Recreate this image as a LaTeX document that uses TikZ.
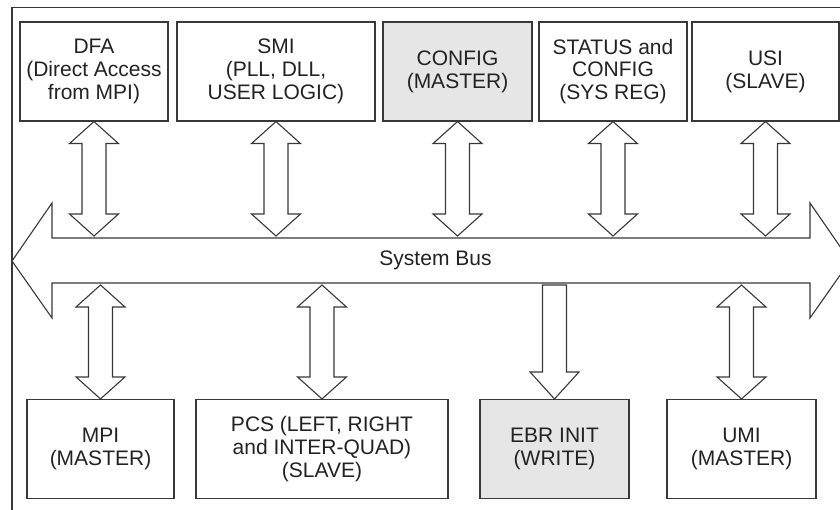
\documentclass[tikz,border=0pt]{standalone}
\usepackage{fontspec}
\setmainfont{Liberation Sans}
\usetikzlibrary{calc}

\definecolor{linegray}{HTML}{383838}
\definecolor{boxgray}{HTML}{E6E6E6}
\definecolor{textgray}{HTML}{222222}

\tikzset{
	blk/.style={draw=linegray, line width=1.1pt, align=center, inner sep=0pt,
		minimum height=99pt, text=textgray, font=\fontsize{21}{22.8}\selectfont},
	blkgray/.style={blk, fill=boxgray},
	busarrow/.style={draw=linegray, line width=1.1pt, fill=white, line join=miter},
}

% double block arrow from #1 (upper end) down to #2 (lower end)
\newcommand{\dblarrow}[2]{%
	\draw[busarrow] let \p1=(#1), \p2=(#2) in
		(\x1,\y1) -- (\x1+24.5pt,\y1-22pt) -- (\x1+12pt,\y1-22pt) -- (\x1+12pt,\y2+22pt)
		-- (\x1+24.5pt,\y2+22pt) -- (\x1,\y2) -- (\x1-24.5pt,\y2+22pt) -- (\x1-12pt,\y2+22pt)
		-- (\x1-12pt,\y1-22pt) -- (\x1-24.5pt,\y1-22pt) -- cycle;}

\begin{document}
\begin{tikzpicture}[x=1pt,y=-1pt]
	\useasboundingbox (0,0) rectangle (840,510);
	\clip (0,0) rectangle (840,510);

	% frame
	\draw[linegray, line width=1.1pt] (12,515) -- (12,7.5) -- (850,7.5);

	% top row
	\node[blk, minimum width=148pt] (dfa) at (94,71.5) {DFA\\(Direct Access\\from MPI)};
	\node[blk, minimum width=198pt] (smi) at (276,71.5) {SMI\\(PLL, DLL,\\USER LOGIC)};
	\node[blkgray, minimum width=149pt] (config) at (457.5,71.5) {CONFIG\\(MASTER)};
	\node[blk, minimum width=148pt] (status) at (613,71.5) {STATUS and\\CONFIG\\(SYS REG)};
	\node[blk, minimum width=147pt] (usi) at (765.5,71.5) {USI\\(SLAVE)};

	% bottom row
	\node[blk, minimum width=147pt] (mpi) at (100.5,449) {MPI\\(MASTER)};
	\node[blk, minimum width=252pt] (pcs) at (322,449) {PCS (LEFT, RIGHT\\and INTER-QUAD)\\(SLAVE)};
	\node[blkgray, minimum width=149pt] (ebr) at (554.5,449) {EBR INIT\\(WRITE)};
	\node[blk, minimum width=149pt] (umi) at (741.5,449) {UMI\\(MASTER)};

	% system bus
	\draw[busarrow] (12,261) -- (52,203) -- (52,238) -- (810,238) -- (810,203) -- (850,261)
		-- (810,318) -- (810,283) -- (52,283) -- (52,318) -- cycle;
	\node[text=textgray, font=\fontsize{21}{22.8}\selectfont] (bus) at (435.5,260) {System Bus};
	\coordinate (busN) at (0,236);
	\coordinate (busS) at (0,285);

	% connections to the bus
	\dblarrow{dfa.south}{dfa.south |- busN}
	\dblarrow{smi.south}{smi.south |- busN}
	\dblarrow{config.south}{config.south |- busN}
	\dblarrow{status.south}{status.south |- busN}
	\dblarrow{usi.south}{usi.south |- busN}

	\dblarrow{mpi.north |- busS}{mpi.north}
	\dblarrow{pcs.north |- busS}{pcs.north}
	\dblarrow{umi.north |- busS}{umi.north}

	\draw[busarrow] let \p1=(ebr.north |- busS), \p2=(ebr.north) in
		(\x1-12pt,\y1) -- (\x1+12pt,\y1) -- (\x1+12pt,\y2+27pt) -- (\x1+24.5pt,\y2+27pt)
		-- (\x2,\y2) -- (\x1-24.5pt,\y2+27pt) -- (\x1-12pt,\y2+27pt) -- cycle;
\end{tikzpicture}
\end{document}
